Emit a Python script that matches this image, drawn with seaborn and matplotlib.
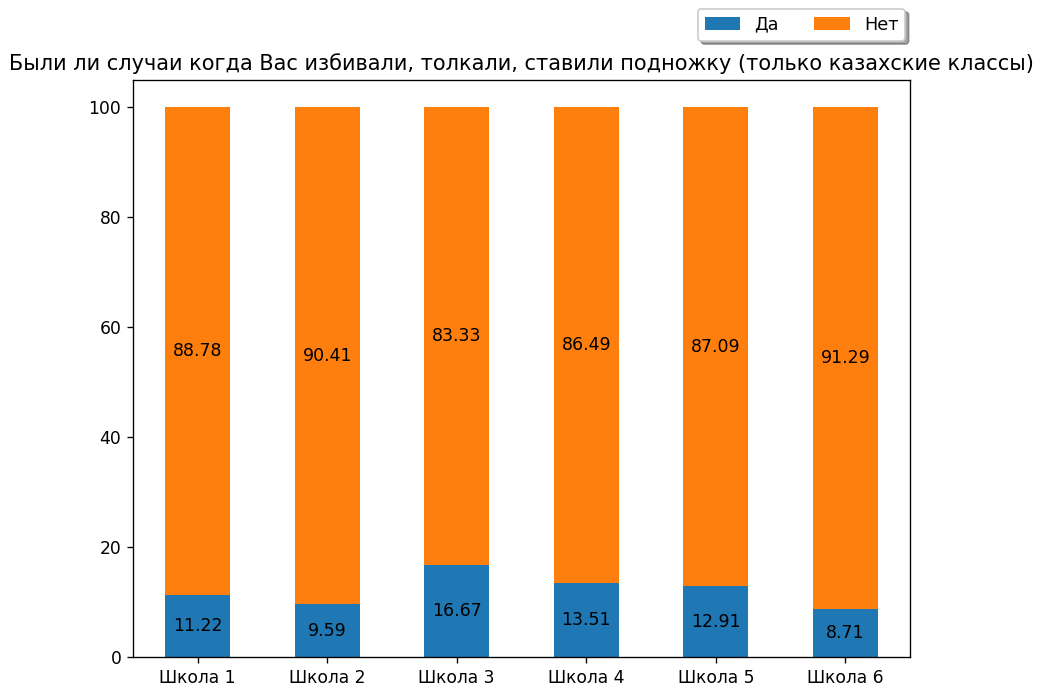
import matplotlib
matplotlib.use("Agg")
import matplotlib.pyplot as plt
import seaborn as sns
import pandas as pd
import numpy as np

schools = ["Школа 1", "Школа 2", "Школа 3", "Школа 4", "Школа 5", "Школа 6"]
da = [11.22, 9.59, 16.67, 13.51, 12.91, 8.71]
net = [88.78, 90.41, 83.33, 86.49, 87.09, 91.29]
title = "Были ли случаи когда Вас избивали, толкали, ставили подножку (только казахские классы)"

df = pd.DataFrame({"school": schools, "Да": da, "Нет": net})

fig = plt.figure(figsize=(1037 / 120, 686 / 120), dpi=120)
ax = fig.add_axes([133 / 1037, 1 - 657 / 686, (910 - 133) / 1037, (657 - 80) / 686])

sns.barplot(data=df, x="school", y="Да", color="#1f77b4", width=0.5,
            saturation=1, label="Да", ax=ax)
sns.barplot(data=df, x="school", y="Нет", color="#ff7f0e", width=0.5,
            saturation=1, label="Нет", bottom=np.array(da), ax=ax)

for cont in ax.containers:
    ax.bar_label(cont, labels=[f"{v:.2f}" for v in cont.datavalues],
                 label_type="center", fontsize=10.4)

ax.set_xlim(-0.5, 5.5)
ax.set_ylim(0, 105)
ax.set_yticks([0, 20, 40, 60, 80, 100])
ax.tick_params(labelsize=10.3)
ax.set_xlabel("")
ax.set_ylabel("")
ax.set_title(title, fontsize=12.5)
ax.legend(ncol=2, shadow=True, loc="lower right",
          bbox_to_anchor=(0.994, 1.068), borderaxespad=0, fontsize=10.6)

fig.savefig("out.png", dpi=120)
